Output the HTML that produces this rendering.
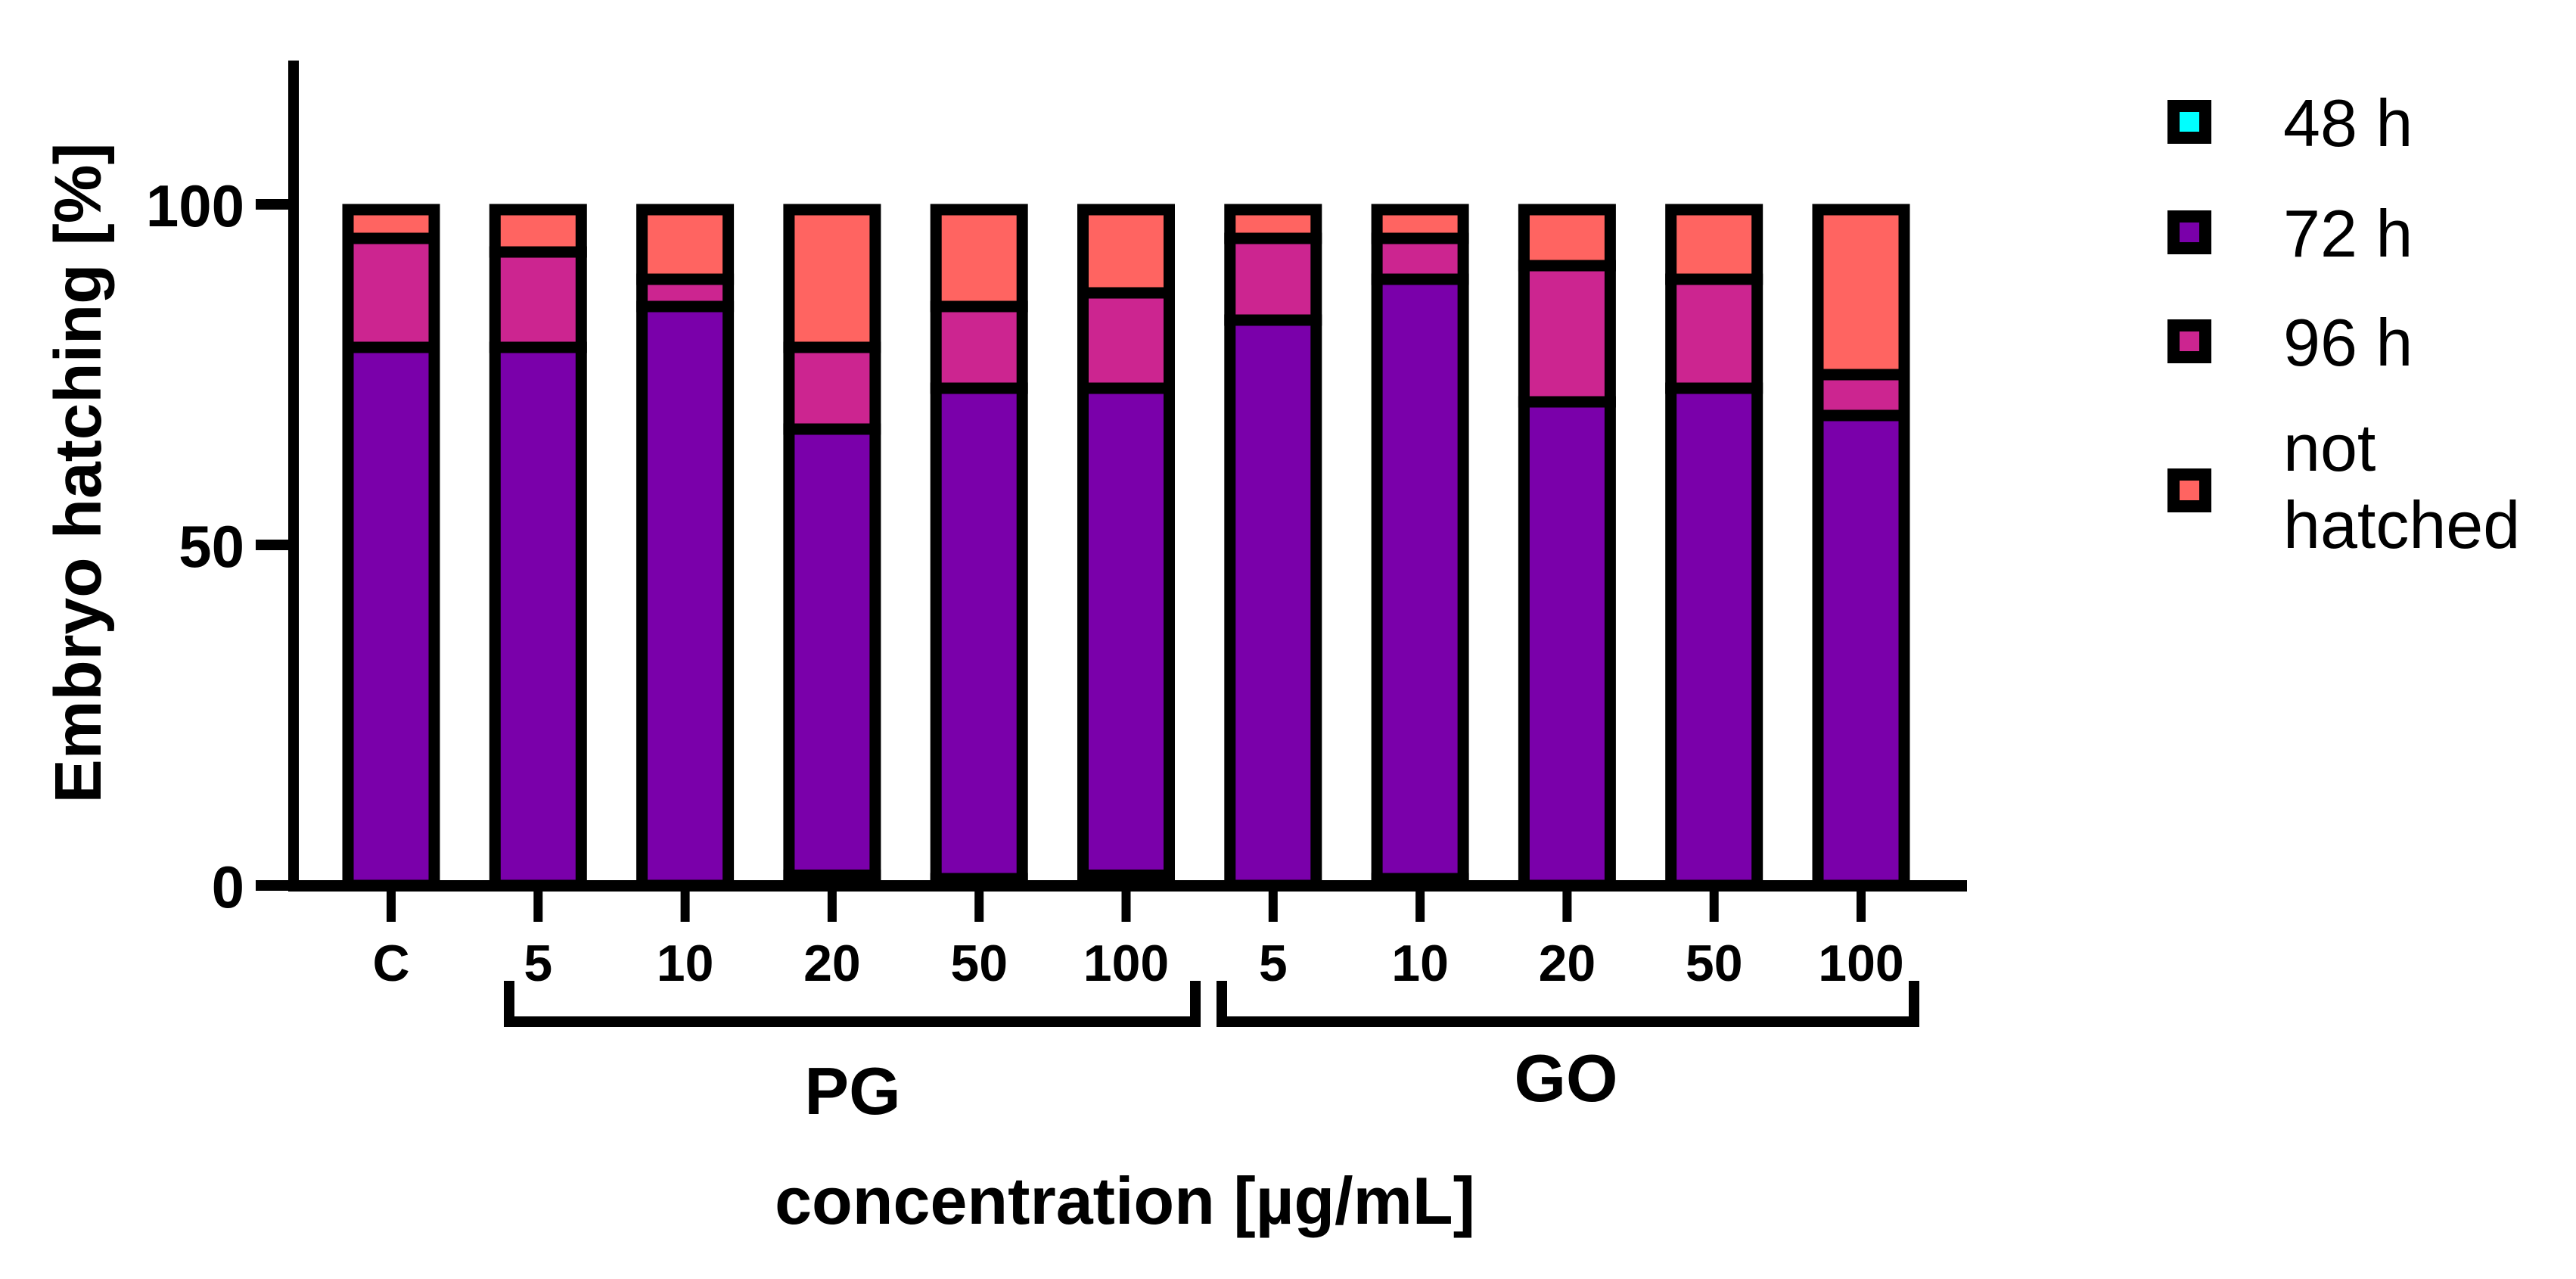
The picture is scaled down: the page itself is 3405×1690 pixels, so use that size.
<!DOCTYPE html>
<html><head><meta charset="utf-8"><style>
html,body{margin:0;padding:0;background:#fff}
svg{display:block}
text{font-family:"Liberation Sans",Arial,sans-serif}
</style></head><body>
<svg id="chart" width="3405" height="1690" viewBox="0 0 3405 1690" xmlns="http://www.w3.org/2000/svg">
<g id="bars"></g>
<g id="axes"></g>
<g id="legend"></g>
</svg>
<script>
const categories = ["C","5","10","20","50","100","5","10","20","50","100"];
const h48 = [0,0,0,1.5,1,1.5,0,1,0,0,0];
const h72 = [79,79,85,65.5,72,71.5,83,88,71,73,69];
const h96 = [16,14,4,12,12,14,12,6,20,16,6];
const notHatched = [5,7,11,21,15,13,5,5,9,11,25];
const yTicks = [0,50,100];
const seriesNames = ["48 h","72 h","96 h","not hatched"];
const seriesColors = ["#00ffff","#7a00aa","#cc2590","#ff6461"];

const NS = "http://www.w3.org/2000/svg";
function el(tag, attrs, parent){const e=document.createElementNS(NS,tag);for(const k in attrs)e.setAttribute(k,attrs[k]);parent.appendChild(e);return e;}
const y = v => 1170 - v*9;
const x = i => 517 + i*194.3;
const barW = 114, SW = 15;
const bars = document.getElementById('bars');
const axes = document.getElementById('axes');
const legend = document.getElementById('legend');
const series = [h48,h72,h96,notHatched];
const segNames = ['h48','h72','h96','not-hatched'];

categories.forEach((c,i)=>{
  let cum = 0;
  const total = series.reduce((s,a)=>s+a[i],0);
  series.forEach((arr,si)=>{
    const v = arr[i];
    if(v<=0) return;
    const y0 = y(cum), y1 = y(cum+v);
    cum += v;
    const top = (Math.abs(cum-total)<1e-6) ? y1+7 : y1;
    const r = el('rect',{x:x(i)-barW/2,y:top,width:barW,height:Math.max(0,y0-top),fill:seriesColors[si],stroke:'#000','stroke-width':SW},bars);
    
    
  });
});

let a = el('rect',{x:381,y:80,width:14,height:1098,fill:'#000'},axes);


a = el('rect',{x:381,y:1163,width:2219,height:15,fill:'#000'},axes);


yTicks.forEach(t=>{
  const tk = el('rect',{x:338,y:y(t)-7,width:50,height:14,fill:'#000'},axes);
  
  
  const lb = el('text',{x:323,y:y(t)+29,'font-size':78,'font-weight':'bold','text-anchor':'end'},axes);
  lb.textContent = t;
  
  
});
categories.forEach((c,i)=>{
  const tk = el('rect',{x:x(i)-6,y:1170,width:12,height:48,fill:'#000'},axes);
  
  
  const lb = el('text',{x:x(i),y:1296,'font-size':68,'font-weight':'bold','text-anchor':'middle'},axes);
  lb.textContent = c;
  
  
});
[[667,1586,'PG',1127,1472],[1609,2536,'GO',2070,1455]].forEach(b=>{
  const p = el('path',{d:`M${b[0]+6},1296 V1350 H${b[1]-6} V1296`,fill:'none',stroke:'#000','stroke-width':14},axes);
  
  
  const t = el('text',{x:b[3],y:b[4],'font-size':88,'font-weight':'bold','text-anchor':'middle'},axes);
  t.textContent = b[2];
  
  
});
let t = el('text',{x:1487,y:1617,'font-size':88,'font-weight':'bold','text-anchor':'middle'},axes);
t.textContent = 'concentration [µg/mL]';


t = el('text',{x:0,y:0,'font-size':87,'font-weight':'bold','text-anchor':'middle',transform:'translate(133,625) rotate(-90)',textLength:873,lengthAdjust:'spacingAndGlyphs'},axes);
t.textContent = 'Embryo hatching [%]';



const rowsY = [161,307,451,648];
seriesNames.forEach((n,i)=>{
  const r = el('rect',{x:2873,y:rowsY[i]-21,width:42,height:42,fill:seriesColors[i],stroke:'#000','stroke-width':16},legend);
  
  
  if(n==='not hatched'){
    const t1 = el('text',{x:3018,y:622,'font-size':88},legend);
    t1.textContent='not';
    
    
    const t2 = el('text',{x:3018,y:724,'font-size':88},legend);
    t2.textContent='hatched';
    
    
  } else {
    const tt = el('text',{x:3018,y:rowsY[i]+32,'font-size':88},legend);
    tt.textContent=n;
    
    
  }
});
</script>
</body></html>
